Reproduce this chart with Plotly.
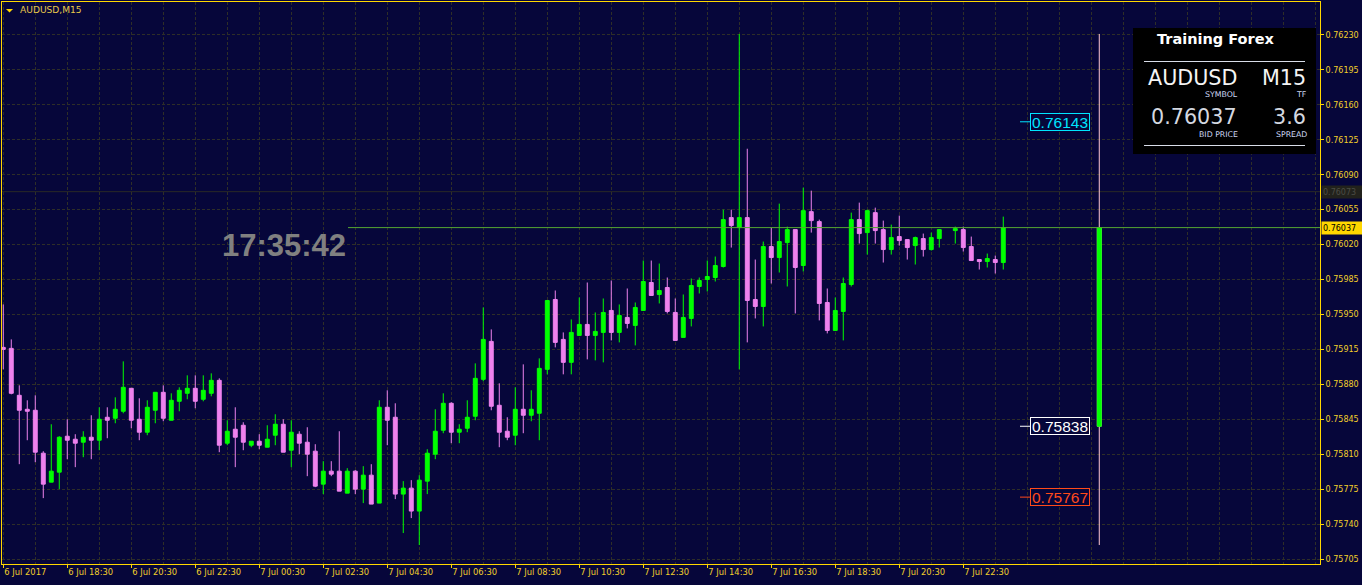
import plotly.graph_objects as go

# ---- data (AUDUSD M15, bar 0 = 6 Jul 2017 16:30) ----
opens = [0.75917, 0.75916, 0.75869, 0.75855, 0.75854, 0.75811, 0.75782, 0.75792, 0.75828, 0.75825,
         0.75822, 0.75827, 0.75824, 0.75847, 0.75846, 0.75853, 0.75876, 0.75845, 0.75832, 0.75854,
         0.75872, 0.75844, 0.75863, 0.75871, 0.75876, 0.75865, 0.75871, 0.75884, 0.75821, 0.75835,
         0.75839, 0.75819, 0.75823, 0.75817, 0.75829, 0.75840, 0.75814, 0.75830, 0.75822, 0.75813,
         0.75780, 0.75793, 0.75793, 0.75771, 0.75793, 0.75775, 0.75789, 0.75761, 0.75857, 0.75847,
         0.75770, 0.75776, 0.75753, 0.75783, 0.75810, 0.75834, 0.75861, 0.75832, 0.75836, 0.75848,
         0.75885, 0.75923, 0.75859, 0.75833, 0.75829, 0.75855, 0.75849, 0.75851, 0.75895, 0.75965,
         0.75925, 0.75902, 0.75929, 0.75940, 0.75929, 0.75932, 0.75954, 0.75932, 0.75947, 0.75939,
         0.75954, 0.75982, 0.75970, 0.75977, 0.75952, 0.75927, 0.75946, 0.75978, 0.75985, 0.75987,
         0.75998, 0.76047, 0.76037, 0.76047, 0.75965, 0.75958, 0.76018, 0.76007, 0.76022, 0.76035,
         0.75999, 0.76053, 0.76043, 0.75962, 0.75934, 0.75953, 0.75980, 0.76045, 0.76032, 0.76052,
         0.76035, 0.76015, 0.76028, 0.76025, 0.76019, 0.76026, 0.76015, 0.76026, None, 0.76034,
         0.76035, 0.76018, 0.76005, 0.76003, 0.76005, 0.76002]
highs = [0.75960, 0.75925, 0.75879, 0.75864, 0.75869, 0.75813, 0.75840, 0.75828, 0.75845, 0.75830,
         0.75833, 0.75849, 0.75857, 0.75857, 0.75867, 0.75903, 0.75876, 0.75866, 0.75864, 0.75872,
         0.75879, 0.75871, 0.75877, 0.75889, 0.75889, 0.75889, 0.75891, 0.75886, 0.75844, 0.75857,
         0.75842, 0.75823, 0.75830, 0.75839, 0.75850, 0.75845, 0.75844, 0.75833, 0.75837, 0.75820,
         0.75803, 0.75803, 0.75833, 0.75796, 0.75794, 0.75798, 0.75800, 0.75864, 0.75874, 0.75861,
         0.75783, 0.75784, 0.75789, 0.75815, 0.75855, 0.75871, 0.75862, 0.75840, 0.75864, 0.75901,
         0.75957, 0.75935, 0.75881, 0.75847, 0.75877, 0.75900, 0.75874, 0.75906, 0.75964, 0.75974,
         0.75932, 0.75945, 0.75967, 0.75982, 0.75952, 0.75966, 0.75984, 0.75960, 0.75976, 0.75962,
         0.76004, 0.76004, 0.76001, 0.75987, 0.75966, 0.75970, 0.75986, 0.75987, 0.76004, 0.76008,
         0.76055, 0.76055, 0.76231, 0.76116, 0.76005, 0.76023, 0.76037, 0.76061, 0.76038, 0.76035,
         0.76077, 0.76074, 0.76045, 0.75976, 0.75967, 0.75987, 0.76052, 0.76062, 0.76055, 0.76057,
         0.76044, 0.76040, 0.76049, 0.76025, 0.76028, 0.76031, 0.76032, 0.76035, None, 0.76038,
         0.76038, 0.76028, 0.76005, 0.76011, 0.76009, 0.76048]
lows = [0.75895, 0.75870, 0.75800, 0.75824, 0.75802, 0.75766, 0.75782, 0.75775, 0.75805, 0.75797,
        0.75807, 0.75805, 0.75814, 0.75826, 0.75841, 0.75851, 0.75836, 0.75824, 0.75829, 0.75841,
        0.75843, 0.75844, 0.75853, 0.75865, 0.75856, 0.75863, 0.75868, 0.75812, 0.75819, 0.75797,
        0.75814, 0.75817, 0.75815, 0.75817, 0.75819, 0.75812, 0.75797, 0.75810, 0.75788, 0.75777,
        0.75770, 0.75788, 0.75773, 0.75771, 0.75770, 0.75761, 0.75760, 0.75761, 0.75819, 0.75765,
        0.75731, 0.75746, 0.75719, 0.75770, 0.75805, 0.75831, 0.75821, 0.75821, 0.75832, 0.75844,
        0.75883, 0.75854, 0.75817, 0.75824, 0.75819, 0.75831, 0.75843, 0.75824, 0.75890, 0.75917,
        0.75890, 0.75890, 0.75929, 0.75905, 0.75904, 0.75902, 0.75924, 0.75922, 0.75936, 0.75919,
        0.75954, 0.75969, 0.75961, 0.75951, 0.75924, 0.75927, 0.75938, 0.75971, 0.75973, 0.75983,
        0.75997, 0.76017, 0.75895, 0.75922, 0.75946, 0.75938, 0.75981, 0.75992, 0.75978, 0.75951,
        0.75993, 0.76032, 0.75944, 0.75931, 0.75934, 0.75924, 0.75978, 0.76021, 0.76010, 0.76021,
        0.76002, 0.76010, 0.76019, 0.76005, 0.76000, 0.76008, 0.76014, 0.76017, None, 0.76021,
        0.76013, 0.76004, 0.75995, 0.75997, 0.75991, 0.75995]
closes = [0.75915, 0.75871, 0.75854, 0.75853, 0.75812, 0.75780, 0.75793, 0.75827, 0.75824, 0.75821,
          0.75827, 0.75824, 0.75845, 0.75844, 0.75855, 0.75877, 0.75844, 0.75832, 0.75857, 0.75872,
          0.75846, 0.75864, 0.75874, 0.75876, 0.75863, 0.75874, 0.75884, 0.75819, 0.75833, 0.75827,
          0.75822, 0.75823, 0.75819, 0.75825, 0.75840, 0.75812, 0.75832, 0.75821, 0.75810, 0.75778,
          0.75793, 0.75790, 0.75773, 0.75793, 0.75775, 0.75789, 0.75760, 0.75857, 0.75844, 0.75770,
          0.75776, 0.75753, 0.75784, 0.75811, 0.75833, 0.75861, 0.75832, 0.75835, 0.75847, 0.75886,
          0.75925, 0.75858, 0.75832, 0.75827, 0.75855, 0.75849, 0.75855, 0.75896, 0.75964, 0.75922,
          0.75902, 0.75932, 0.75940, 0.75929, 0.75933, 0.75952, 0.75932, 0.75949, 0.75941, 0.75957,
          0.75983, 0.75969, 0.75974, 0.75953, 0.75924, 0.75947, 0.75979, 0.75984, 0.75988, 0.75999,
          0.76045, 0.76039, 0.76047, 0.75964, 0.75958, 0.76018, 0.76007, 0.76023, 0.76035, 0.75997,
          0.76054, 0.76044, 0.75961, 0.75934, 0.75954, 0.75981, 0.76045, 0.76031, 0.76054, 0.76034,
          0.76015, 0.76027, 0.76024, 0.76017, 0.76027, 0.76015, 0.76027, 0.76035, None, 0.76036,
          0.76017, 0.76004, 0.76003, 0.76006, 0.76002, 0.76037]

# daily candle drawn by the indicator to the right of price
day_bar = 137
day_open, day_high, day_low, day_close = 0.75838, 0.76231, 0.75719, 0.76037
day_levels = [0.76143, 0.75838, 0.75767]
day_level_colors = ["#00e5ff", "#ffffff", "#ff4a1a"]

bid = 0.76037
ask = 0.76073
spread = "3.6"
clock = "17:35:42"

x_tickvals = [0, 8, 16, 24, 32, 40, 48, 56, 64, 72, 80, 88, 96, 104, 112, 120]
x_ticktext = ["6 Jul 2017", "6 Jul 18:30", "6 Jul 20:30", "6 Jul 22:30", "7 Jul 00:30",
              "7 Jul 02:30", "7 Jul 04:30", "7 Jul 06:30", "7 Jul 08:30", "7 Jul 10:30",
              "7 Jul 12:30", "7 Jul 14:30", "7 Jul 16:30", "7 Jul 18:30", "7 Jul 20:30",
              "7 Jul 22:30"]
y_ticks = [0.75705, 0.75740, 0.75775, 0.75810, 0.75845, 0.75880, 0.75915, 0.75950,
           0.75985, 0.76020, 0.76055, 0.76090, 0.76125, 0.76160, 0.76195, 0.76230]

# ---- look ----
W, H = 1362, 585
ML, MR, MT, MB = 2, 42, 2, 21
PW, PH = W - ML - MR, H - MT - MB
X0 = -0.16
X1 = X0 + PW / 8.0

BG = "#06063a"
GOLD = "#ffd700"
TXT = "#f2cf2a"
GRID = "#2e2e28"
BULL = "#00ff00"
BEAR = "#ee82ee"
FONT = "DejaVu Sans"


def px_x(p):
    return (p - ML) / PW


def px_y(p):
    return (H - MB - p) / PH


def bar_at(p):
    return X0 + (p - ML) / 8.0


xs = [i for i, o in enumerate(opens) if o is not None]
pick = lambda arr: [arr[i] for i in xs]

fig = go.Figure()

fig.add_trace(go.Candlestick(
    x=xs, open=pick(opens), high=pick(highs), low=pick(lows), close=pick(closes),
    increasing=dict(line=dict(color=BULL, width=1), fillcolor=BULL),
    decreasing=dict(line=dict(color=BEAR, width=1), fillcolor=BEAR),
    whiskerwidth=0, showlegend=False, name="AUDUSD,M15"
))

# daily candle: pink wick, green body
fig.add_trace(go.Candlestick(
    x=[day_bar], open=[day_open], high=[day_high], low=[day_low], close=[day_close],
    increasing=dict(line=dict(color="#ffc8d2", width=1), fillcolor="#ffc8d2"),
    decreasing=dict(line=dict(color="#ffc8d2", width=1), fillcolor="#ffc8d2"),
    whiskerwidth=0, showlegend=False, hoverinfo="skip"
))
fig.add_trace(go.Candlestick(
    x=[day_bar], open=[day_open], high=[max(day_open, day_close)],
    low=[min(day_open, day_close)], close=[day_close],
    increasing=dict(line=dict(color=BULL, width=1), fillcolor=BULL),
    decreasing=dict(line=dict(color=BULL, width=1), fillcolor=BULL),
    whiskerwidth=0, showlegend=False, hoverinfo="skip"
))

shapes = []
annotations = []

# ask / bid lines
shapes.append(dict(type="line", xref="paper", yref="y", x0=0, x1=1, y0=ask, y1=ask,
                   line=dict(color="#2a2a26", width=1), layer="below"))
shapes.append(dict(type="line", xref="paper", yref="y", x0=px_x(348), x1=1, y0=bid, y1=bid,
                   line=dict(color="#55a632", width=1), layer="above"))

# axis price labels
annotations.append(dict(xref="paper", yref="y", x=1, y=ask, xanchor="left", yanchor="middle",
                        xshift=1, text="0.76073", showarrow=False, align="left",
                        width=38, height=10, borderpad=1, bgcolor="#22221c",
                        font=dict(family=FONT, size=8, color="#4c4c44")))
annotations.append(dict(xref="paper", yref="y", x=1, y=bid, xanchor="left", yanchor="middle",
                        xshift=1, text=f"{bid:.5f}", showarrow=False, align="left",
                        width=38, height=10, borderpad=1, bgcolor=GOLD,
                        font=dict(family=FONT, size=8, color="#000000")))

# day level labels
for lvl, col in zip(day_levels, day_level_colors):
    shapes.append(dict(type="line", xref="x", yref="y", x0=bar_at(1020), x1=bar_at(1030),
                       y0=lvl, y1=lvl, line=dict(color=col, width=1), layer="above"))
    annotations.append(dict(xref="x", yref="y", x=bar_at(1030), y=lvl, xanchor="left",
                            yanchor="middle", text=f"{lvl:.5f}", showarrow=False,
                            width=58, height=16, borderpad=0, borderwidth=1,
                            bordercolor=col, bgcolor=BG,
                            font=dict(family="Liberation Sans", size=15.5, color=col)))

# clock
annotations.append(dict(xref="paper", yref="paper", x=px_x(348), y=px_y(245),
                        xanchor="right", yanchor="middle", text=f"<b>{clock}</b>",
                        showarrow=False,
                        font=dict(family="Liberation Sans", size=31, color="#808080")))

# chart caption
shapes.append(dict(type="path", xref="paper", yref="paper", xsizemode="pixel",
                   ysizemode="pixel", xanchor=0, yanchor=1,
                   path="M 4 -7 L 11 -7 L 7.5 -10.5 Z", fillcolor=GOLD,
                   line=dict(color=GOLD, width=0), layer="above"))
annotations.append(dict(xref="paper", yref="paper", x=px_x(18), y=px_y(10.5),
                        xanchor="left", yanchor="middle", text="AUDUSD,M15",
                        showarrow=False, font=dict(family=FONT, size=9.1, color="#e8c84a")))

# info panel
shapes.append(dict(type="rect", xref="paper", yref="paper", x0=px_x(1133), x1=px_x(1316),
                   y0=px_y(154), y1=px_y(28), fillcolor="#000000", line=dict(width=0),
                   layer="above"))
for yy in (61.5, 145.5):
    shapes.append(dict(type="line", xref="paper", yref="paper", x0=px_x(1144), x1=px_x(1305),
                       y0=px_y(yy), y1=px_y(yy), line=dict(color="#d8dde8", width=1),
                       layer="above"))

panel_texts = [
    ("<b>Training Forex</b>", 1216, 39.5, "center", 14.5, "#ffffff"),
    ("AUDUSD", 1239, 78, "right", 20.7, "#f4f4f4"),
    ("M15", 1308, 78, "right", 20.7, "#f4f4f4"),
    ("SYMBOL", 1240, 95, "right", 7.8, "#ccd6f2"),
    ("TF", 1309, 95, "right", 7.8, "#ccd6f2"),
    (f"{bid:.5f}", 1239, 117, "right", 20.7, "#d4d8e0"),
    (spread, 1308, 117, "right", 20.7, "#d4d8e0"),
    ("BID PRICE", 1240, 135, "right", 7.8, "#ccd6f2"),
    ("SPREAD", 1309, 135, "right", 7.8, "#ccd6f2"),
]
for txt, x, y, anchor, size, col in panel_texts:
    annotations.append(dict(xref="paper", yref="paper", x=px_x(x), y=px_y(y),
                            xanchor=anchor, yanchor="middle", text=txt, showarrow=False,
                            font=dict(family=FONT, size=size, color=col)))

fig.update_layout(
    width=W, height=H,
    margin=dict(l=ML, r=MR, t=MT, b=MB, autoexpand=False),
    paper_bgcolor=BG, plot_bgcolor=BG,
    showlegend=False,
    shapes=shapes, annotations=annotations,
    xaxis=dict(
        range=[X0, X1], tickmode="array", tickvals=x_tickvals, ticktext=x_ticktext,
        ticks="outside", ticklen=3, tickcolor=GOLD, ticklabelposition="outside right",
        tickfont=dict(family=FONT, size=8.4, color=TXT),
        showgrid=True, gridcolor=GRID, griddash="3px,2px", gridwidth=1,
        minor=dict(tickmode="linear", tick0=0, dtick=4, showgrid=True, gridcolor=GRID,
                   griddash="3px,2px", ticks=""),
        showline=True, linecolor=GOLD, linewidth=1, mirror=True, zeroline=False,
        rangeslider=dict(visible=False), fixedrange=True,
    ),
    yaxis=dict(
        side="right", range=[0.75700, 0.76263], tickmode="array", tickvals=y_ticks,
        ticktext=[f"{v:.5f}" for v in y_ticks],
        ticks="outside", ticklen=3, tickcolor=GOLD,
        tickfont=dict(family=FONT, size=8, color=TXT),
        showgrid=True, gridcolor=GRID, griddash="3px,2px", gridwidth=1,
        showline=True, linecolor=GOLD, linewidth=1, mirror=True, zeroline=False,
        fixedrange=True,
    ),
)

# page margin off so the 1362x585 figure fills the window exactly
fig.write_html("out.html", config={"displayModeBar": False},
               post_script="document.body.style.margin='0';"
                           "document.body.style.background='" + BG + "';"
                           "document.documentElement.style.overflow='hidden';")
